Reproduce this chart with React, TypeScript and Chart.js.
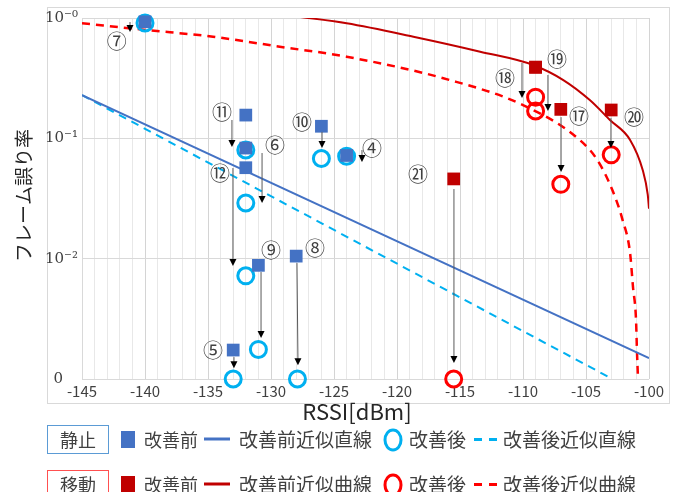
import React, { useEffect, useRef } from 'react';
import { Chart, registerables } from 'chart.js';

Chart.register(...registerables);

// ---- axes ----
const xMin = -145;
const xMax = -100;
const xTickValues = [-145, -140, -135, -130, -125, -120, -115, -110, -105, -100];
const yTickValues = [0.001, 0.01, 0.1, 1];
const yTickLabels = ['0\u2002\u2002', '10⁻²', '10⁻¹', '10⁻⁰'];

// ---- 静止 (static) ----
const staticIds = ['④', '⑤', '⑥', '⑦', '⑧', '⑨', '⑩', '⑪', '⑫'];
const staticBeforeX = [-124, -133, -132, -140, -128, -131, -126, -132, -132];
const staticBeforeY = [0.072, 0.00174, 0.083, 0.93, 0.0105, 0.0088, 0.126, 0.156, 0.057];
const staticAfterX = [-124, -133, -132, -140, -127.9, -131, -126, -132, -132];
const staticAfterY = [0.071, 0.001, 0.029, 0.91, 0.001, 0.00176, 0.068, 0.08, 0.0072];

// ---- 移動 (moving) ----
const movingIds = ['⑰', '⑱', '⑲', '⑳', '㉑'];
const movingBeforeX = [-107, -109, -109, -103, -115.5];
const movingBeforeY = [0.174, 0.39, 0.39, 0.172, 0.046];
const movingAfterX = [-107, -109, -109, -103, -115.5];
const movingAfterY = [0.0415, 0.22, 0.169, 0.073, 0.001];

// ---- fits ----
const staticFitBeforeX = [-145, -100];
const staticFitBeforeY = [0.229, 0.00149];
const staticFitAfterX = [-145, -102.9];
const staticFitAfterY = [0.229, 0.001];

const movingFitBeforeX = [-128, -124, -118.7, -113.4, -109.2, -106.8, -104.7, -103.1, -101.5, -100.5, -100.1, -100];
const movingFitBeforeY = [1.03, 0.904, 0.699, 0.525, 0.407, 0.305, 0.208, 0.142, 0.097, 0.0545, 0.034, 0.026];
const movingFitAfterX = [-145, -139.9, -134.6, -129.3, -124, -115.8, -110, -105.5, -104.1, -102.9, -102.1, -101.5, -101.27, -101.03, -100.95, -100.87];
const movingFitAfterY = [0.904, 0.795, 0.699, 0.577, 0.477, 0.305, 0.189, 0.097, 0.066, 0.037, 0.021, 0.0111, 0.0058, 0.0031, 0.00164, 0.001];

// ---- annotations (circled numbers and arrows), in data units ----
const annLabels = ['⑦', '⑪', '⑥', '⑫', '⑨', '⑧', '⑤', '⑩', '④', '㉑', '⑱', '⑲', '⑰', '⑳'];
const annLabelX = [-142.25, -133.89, -129.68, -134.05, -130.0, -126.51, -134.6, -127.54, -121.98, -118.33, -111.43, -107.3, -105.56, -101.19];
const annLabelY = [0.656, 0.166, 0.0897, 0.0525, 0.012, 0.0125, 0.00177, 0.139, 0.0847, 0.0515, 0.323, 0.465, 0.156, 0.153];
const annArrowX1 = [-141.19, -133.1, -130.71, -133.02, -130.79, -127.94, -132.94, -125.95, -122.78, -115.48, -110.08, -108.02, -106.98, -103.02];
const annArrowX2 = [-141.19, -133.1, -130.71, -133.02, -130.79, -127.86, -132.94, -125.95, -122.78, -115.48, -110.08, -108.02, -106.98, -103.02];
const annArrowY1 = [0.926, 0.142, 0.0755, 0.0566, 0.00774, 0.00919, 0.00152, 0.113, 0.08, 0.0379, 0.423, 0.336, 0.15, 0.148];
const annArrowY2 = [0.765, 0.0847, 0.029, 0.00869, 0.00219, 0.0013, 0.00123, 0.083, 0.0635, 0.00136, 0.216, 0.169, 0.0525, 0.083];

// ---- legend texts ----
const legendBoxes = ['静止', '移動'];
const legendRow1 = ['改善前', '改善前近似直線', '改善後', '改善後近似直線'];
const legendRow2 = ['改善前', '改善前近似曲線', '改善後', '改善後近似曲線'];
const yTitle = 'フレーム誤り率';
const xTitle = 'RSSI[dBm]';

const C_BLUE = '#4472C4';
const C_CYAN = '#00B0F0';
const C_DRED = '#C00000';
const C_RED = '#FF0000';
const FONT = '"Noto Sans CJK JP", "Noto Sans", sans-serif';
const TXT = '#404040';

const pts = (xs: number[], ys: number[]) => xs.map((v, i) => ({ x: v, y: ys[i] }));

function drawLegendRow(ctx: CanvasRenderingContext2D, cy: number, box: string, boxColor: string, sq: string, ln: string, circ: string, dash: string, names: string[]) {
  ctx.strokeStyle = boxColor;
  ctx.lineWidth = 1;
  ctx.strokeRect(47.5, cy - 13.5, 61, 28);
  ctx.fillStyle = TXT;
  ctx.font = `18px ${FONT}`;
  ctx.textAlign = 'center';
  ctx.textBaseline = 'middle';
  ctx.fillText(box, 78, cy + 1);
  ctx.fillStyle = sq;
  ctx.fillRect(121, cy - 8, 14, 17);
  ctx.fillStyle = TXT;
  ctx.font = `18px ${FONT}`;
  ctx.textAlign = 'left';
  ctx.fillText(names[0], 144, cy + 1);
  ctx.strokeStyle = ln;
  ctx.lineWidth = 3;
  ctx.beginPath();
  ctx.moveTo(204, cy);
  ctx.lineTo(230, cy);
  ctx.stroke();
  ctx.font = `19px ${FONT}`;
  ctx.fillText(names[1], 239, cy + 1);
  ctx.strokeStyle = circ;
  ctx.lineWidth = 3;
  ctx.beginPath();
  ctx.ellipse(393, cy + 1, 8, 10, 0, 0, Math.PI * 2);
  ctx.stroke();
  ctx.fillStyle = TXT;
  ctx.fillText(names[2], 409, cy + 1);
  ctx.fillStyle = dash;
  ctx.fillRect(474, cy - 1, 8, 3);
  ctx.fillRect(489, cy - 1, 8, 3);
  ctx.fillStyle = TXT;
  ctx.fillText(names[3], 503, cy + 1);
}

const decorPlugin = {
  id: 'decor',
  beforeDraw(chart: any) {
    const ctx = chart.ctx as CanvasRenderingContext2D;
    ctx.save();
    ctx.fillStyle = '#ffffff';
    ctx.fillRect(0, 0, chart.width, chart.height);
    ctx.strokeStyle = '#d9d9d9';
    ctx.lineWidth = 1;
    ctx.strokeRect(47.5, 7.5, 622, 396);
    ctx.restore();
  },
  afterDatasetsDraw(chart: any) {
    const ctx = chart.ctx as CanvasRenderingContext2D;
    const xs = chart.scales.x;
    const ys = chart.scales.y;
    ctx.save();
    for (let i = 0; i < annLabels.length; i++) {
      const x1 = xs.getPixelForValue(annArrowX1[i]);
      const y1 = ys.getPixelForValue(annArrowY1[i]);
      const x2 = xs.getPixelForValue(annArrowX2[i]);
      const y2 = ys.getPixelForValue(annArrowY2[i]);
      ctx.strokeStyle = '#595959';
      ctx.lineWidth = 1;
      ctx.beginPath();
      ctx.moveTo(x1, y1);
      ctx.lineTo(x2, y2 - 4);
      ctx.stroke();
      ctx.fillStyle = '#000000';
      ctx.beginPath();
      ctx.moveTo(x2, y2);
      ctx.lineTo(x2 - 3.5, y2 - 7);
      ctx.lineTo(x2 + 3.5, y2 - 7);
      ctx.closePath();
      ctx.fill();
      ctx.fillStyle = TXT;
      ctx.font = `20px ${FONT}`;
      ctx.textAlign = 'center';
      ctx.textBaseline = 'middle';
      ctx.fillText(annLabels[i], xs.getPixelForValue(annLabelX[i]), ys.getPixelForValue(annLabelY[i]) + 1);
    }
    ctx.restore();
  },
  afterDraw(chart: any) {
    const ctx = chart.ctx as CanvasRenderingContext2D;
    const area = chart.chartArea;
    ctx.save();
    // y title
    ctx.translate(24, (area.top + area.bottom) / 2 - 3);
    ctx.rotate(-Math.PI / 2);
    ctx.fillStyle = '#262626';
    ctx.font = `19px ${FONT}`;
    ctx.textAlign = 'center';
    ctx.textBaseline = 'middle';
    ctx.fillText(yTitle, 0, 0);
    ctx.restore();
    ctx.save();
    ctx.fillStyle = '#262626';
    ctx.font = `22px ${FONT}`;
    ctx.textAlign = 'center';
    ctx.textBaseline = 'middle';
    ctx.fillText(xTitle, 357, 412);
    drawLegendRow(ctx, 439, legendBoxes[0], '#5B9BD5', C_BLUE, C_BLUE, C_CYAN, C_CYAN, legendRow1);
    drawLegendRow(ctx, 484, legendBoxes[1], '#FF5050', C_DRED, C_DRED, C_RED, C_RED, legendRow2);
    ctx.restore();
  },
};

export default function App() {
  const ref = useRef<HTMLCanvasElement>(null);
  useEffect(() => {
    const gridX: number[] = [];
    for (let v = xMin; v <= xMax; v++) gridX.push(v);
    const chart = new Chart(ref.current as HTMLCanvasElement, {
      type: 'scatter',
      data: {
        datasets: [
          { label: '静止 改善前', data: pts(staticBeforeX, staticBeforeY), pointStyle: 'rect', pointRadius: 9, backgroundColor: C_BLUE, borderWidth: 0, showLine: false, clip: false },
          { label: '移動 改善前', data: pts(movingBeforeX, movingBeforeY), pointStyle: 'rect', pointRadius: 9, backgroundColor: C_DRED, borderWidth: 0, showLine: false, clip: false },
          { label: '静止 改善後', data: pts(staticAfterX, staticAfterY), pointStyle: 'circle', pointRadius: 8, borderWidth: 3, borderColor: C_CYAN, backgroundColor: 'rgba(255,255,255,0)', showLine: false, clip: false },
          { label: '移動 改善後', data: pts(movingAfterX, movingAfterY), pointStyle: 'circle', pointRadius: 8, borderWidth: 3, borderColor: C_RED, backgroundColor: 'rgba(255,255,255,0)', showLine: false, clip: false },
          { label: '静止 改善前近似直線', data: pts(staticFitBeforeX, staticFitBeforeY), showLine: true, pointRadius: 0, borderColor: C_BLUE, borderWidth: 2 },
          { label: '静止 改善後近似直線', data: pts(staticFitAfterX, staticFitAfterY), showLine: true, pointRadius: 0, borderColor: C_CYAN, borderWidth: 2, borderDash: [8, 6] },
          { label: '移動 改善前近似曲線', data: pts(movingFitBeforeX, movingFitBeforeY), showLine: true, pointRadius: 0, borderColor: C_DRED, borderWidth: 2, cubicInterpolationMode: 'monotone' },
          { label: '移動 改善後近似曲線', data: pts(movingFitAfterX, movingFitAfterY), showLine: true, pointRadius: 0, borderColor: C_RED, borderWidth: 2.5, borderDash: [8, 6], cubicInterpolationMode: 'monotone' },
        ] as any,
      },
      options: {
        responsive: false,
        animation: false,
        devicePixelRatio: 1,
        events: [],
        layout: { padding: { left: 0, right: 34, top: 18, bottom: 69 } },
        plugins: { legend: { display: false }, tooltip: { enabled: false } },
        scales: {
          x: {
            type: 'linear',
            min: xMin,
            max: xMax,
            afterBuildTicks: (s: any) => { s.ticks = gridX.map((v) => ({ value: v })); },
            afterFit: (s: any) => { s.height = 44; },
            ticks: {
              autoSkip: false,
              maxRotation: 0,
              padding: 3,
              color: TXT,
              font: { family: FONT, size: 15 },
              callback: (v: any) => (xTickValues.includes(Number(v)) ? String(v) : ''),
            },
            grid: {
              drawTicks: false,
              color: (c: any) => (c.tick && xTickValues.includes(c.tick.value) ? '#d4d4d4' : '#e8e8e8'),
            },
            border: { display: false },
          },
          y: {
            type: 'logarithmic',
            min: 0.001,
            max: 1,
            afterBuildTicks: (s: any) => { s.ticks = yTickValues.map((v) => ({ value: v })); },
            afterFit: (s: any) => { s.width = 82; },
            ticks: {
              autoSkip: false,
              padding: 4,
              color: TXT,
              font: { family: '"DejaVu Serif", serif', size: 15 },
              callback: (_v: any, i: number) => yTickLabels[i],
            },
            grid: { drawTicks: false, color: '#d9d9d9' },
            border: { display: true, color: '#d9d9d9' },
          },
        },
      } as any,
      plugins: [decorPlugin],
    });
    return () => chart.destroy();
  }, []);
  return (
    <div style={{ position: 'absolute', left: 0, top: 0, width: 683, height: 492, background: '#fff' }}>
      <canvas ref={ref} width={683} height={492} style={{ display: 'block', width: 683, height: 492 }} />
    </div>
  );
}
